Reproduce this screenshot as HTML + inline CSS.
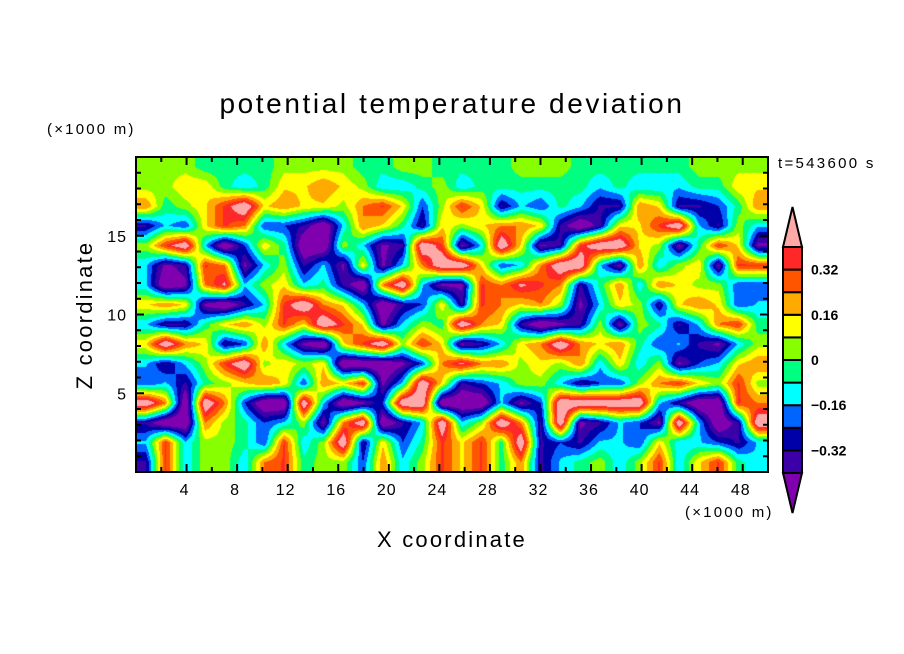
<!DOCTYPE html>
<html><head><meta charset="utf-8">
<style>
body{margin:0;background:#fff;}
#wrap{position:relative;width:904px;height:654px;overflow:hidden;background:#fff;font-family:"Liberation Sans",sans-serif;}
svg text{font-family:"Liberation Sans",sans-serif;}
canvas{position:absolute;left:136px;top:157px;}
</style></head>
<body>
<div id="wrap">
<canvas id="cv" width="632" height="315"></canvas>
<svg id="svg" width="904" height="654" style="position:absolute;left:0;top:0"></svg>
</div>
<script>
// field values: 16 rows (top -> bottom) x 32 columns (left -> right)
const row0=[.04,.04,.04,-.04,-.04,-.04,-.04,.04,.04,.04,.04,-.04,-.04,.04,.04,-.04,-.04,-.04,-.04,.04,.04,.04,-.04,-.04,-.04,-.04,-.04,-.04,.04,.04,.04,.04];
const row1=[.04,.04,.12,.12,-.04,-.12,-.04,.12,.12,.2,.12,.04,-.12,-.12,-.04,.04,-.12,-.04,-.04,-.04,-.04,-.04,-.04,-.12,-.04,-.12,-.12,-.12,-.04,-.04,.12,.12];
const row2=[.2,-.04,.04,.12,.28,.45,.12,.2,.12,.12,.04,.2,.28,.12,-.2,.04,.28,.12,-.28,-.12,-.2,-.04,-.12,-.28,-.28,.2,.12,-.28,-.28,-.2,-.04,.2];
const row3=[-.28,-.12,-.2,.12,.28,.2,-.2,-.2,-.28,-.45,-.12,.2,.12,-.04,-.28,.12,.04,.12,.2,.2,.12,-.28,-.45,-.28,.12,.12,.28,.45,-.12,-.28,.04,-.12];
const row4=[.04,.28,.45,-.12,-.45,-.2,.12,-.04,-.45,-.45,.04,-.12,-.36,-.28,.45,.28,-.36,-.12,.45,.12,-.36,-.28,.28,.45,.45,.12,.04,-.36,-.04,.28,.12,-.36];
const row5=[-.12,-.36,-.28,.28,.2,-.36,-.12,.04,-.28,-.12,-.36,.12,-.36,-.12,.2,.45,.45,.12,-.2,-.12,.2,.45,.45,-.12,-.36,.2,-.12,.04,.12,-.36,.28,.28];
const row6=[-.12,-.45,-.36,.2,.36,-.12,.04,.12,-.12,-.04,-.28,-.45,.2,.45,-.12,-.36,-.36,.28,.2,.36,.28,.2,-.28,-.04,.2,-.12,.2,.12,.04,.04,-.2,-.2];
const row7=[.12,.2,.12,-.36,-.45,-.28,-.12,.28,.45,.2,.12,-.12,-.45,-.28,-.2,.12,-.28,.28,.2,.12,.2,.04,-.36,-.12,.12,.04,-.28,.12,.2,.12,-.2,-.12];
const row8=[-.12,-.28,-.28,-.04,.12,.2,.04,.28,.12,.45,.28,.12,-.36,-.12,.04,-.04,.45,.2,.12,-.28,-.45,-.36,-.28,.04,-.36,.04,-.04,-.28,-.12,.2,.28,-.04];
const row9=[.12,.45,.2,.12,-.28,-.2,.2,-.12,-.36,-.45,.12,.28,.45,.04,.28,.12,-.36,-.28,-.12,.12,.2,.45,.2,.12,.2,-.04,-.2,-.12,-.28,-.36,-.12,.04];
const row10=[-.12,-.28,-.12,.04,.28,.45,.04,.12,.04,.12,-.45,-.45,-.45,-.36,-.2,.2,.36,.2,.2,.04,.12,.04,.2,-.12,.12,-.12,.04,-.36,-.2,-.12,.12,.2];
const row11=[-.2,-.12,-.28,-.04,.04,.12,.2,.12,-.2,.2,.12,.28,-.36,-.12,.45,.12,-.28,-.2,-.12,.04,.04,-.12,-.28,-.2,-.2,.04,.2,.28,.12,.04,.28,.04];
const row12=[.45,.2,-.45,.45,.2,-.2,-.45,-.45,.45,-.12,-.45,-.36,-.2,.45,.45,-.45,-.45,-.45,-.12,-.36,-.2,.45,.45,.45,.45,.45,-.12,-.28,-.45,-.45,.28,.2];
const row13=[-.28,-.45,-.45,.2,.04,-.04,-.2,-.12,.04,-.36,.2,.45,-.45,-.28,-.12,.45,-.12,.04,.45,.2,-.28,.45,-.36,-.28,-.12,-.2,-.36,.45,-.12,-.45,-.28,.45];
const row14=[-.12,.28,-.12,.04,.04,-.04,-.2,.28,-.12,.04,.45,-.28,.12,-.2,-.04,.28,.12,.28,-.04,.45,-.28,-.2,-.28,-.12,-.12,-.2,.12,-.12,-.12,-.2,-.28,-.12];
const row15=[-.28,.28,-.12,.04,.04,-.12,.2,.28,-.04,.04,.04,-.2,.2,-.12,.04,.28,.12,.28,-.04,.2,-.28,-.12,-.04,.04,-.12,.04,.28,-.12,.12,.28,-.04,-.12];
const levels=[-0.4,-0.32,-0.24,-0.16,-0.08,0,0.08,0.16,0.24,0.32,0.4];
const levelColors=["#8000b0","#3c00a8","#0000a8","#0064ff","#00ffff","#00ff80","#88ff00","#ffff00","#ffaa00","#ff5500","#ff2828","#ffa8a8"];
const xTicks=[4,8,12,16,20,24,28,32,36,40,44,48];
const yTicks=[5,10,15];
const cbLabels=["0.32","0.16","0","\u22120.16","\u22120.32"];
const cbLabelLevels=[0.32,0.16,0,-0.16,-0.32];

const field=[row0,row1,row2,row3,row4,row5,row6,row7,row8,row9,row10,row11,row12,row13,row14,row15];
const PX=136,PY=157,PW=632,PH=315,XMAX=50,ZMAX=20;
const CONTRAST=1.2;
const sx=v=>PX+v/XMAX*PW, sy=v=>PY+PH-v/ZMAX*PH;

function hexRGB(h){return [parseInt(h.substr(1,2),16),parseInt(h.substr(3,2),16),parseInt(h.substr(5,2),16)];}
const rgb=levelColors.map(hexRGB);
function bin(v){let i=0;while(i<levels.length&&v>=levels[i])i++;return i;}

(function(){
 const cv=document.getElementById('cv');const ctx=cv.getContext('2d');
 const img=ctx.createImageData(PW,PH);
 const nr=field.length,nc=field[0].length;
 for(let y=0;y<PH;y++){
  let fy=(y+0.5)/PH*nr-0.5; fy=Math.max(0,Math.min(nr-1,fy));
  const r0=Math.floor(fy),r1=Math.min(nr-1,r0+1),ty=fy-r0;
  for(let x=0;x<PW;x++){
   let fx=(x+0.5)/PW*nc-0.5; fx=Math.max(0,Math.min(nc-1,fx));
   const c0=Math.floor(fx),c1=Math.min(nc-1,c0+1),tx=fx-c0;
   const v=((field[r0][c0]*(1-tx)+field[r0][c1]*tx)*(1-ty)+(field[r1][c0]*(1-tx)+field[r1][c1]*tx)*ty)*CONTRAST;
   const c=rgb[bin(v)];const k=(y*PW+x)*4;
   img.data[k]=c[0];img.data[k+1]=c[1];img.data[k+2]=c[2];img.data[k+3]=255;
  }
 }
 ctx.putImageData(img,0,0);
})();

const NS='http://www.w3.org/2000/svg';
const svg=document.getElementById('svg');
function mk(tag,attrs,parent){const e=document.createElementNS(NS,tag);for(const k in attrs)e.setAttribute(k,attrs[k]);(parent||svg).appendChild(e);return e;}

const frame=mk('rect',{x:PX,y:PY,width:PW,height:PH,fill:'none',stroke:'#000','stroke-width':2});



for(let v=2;v<XMAX;v+=2){
 const major=v%4===0;const L=major?8:5;const x=sx(v);
 const t1=mk('line',{x1:x,y1:PY+PH,x2:x,y2:PY+PH-L,stroke:'#000','stroke-width':2});
 
 
 const t2=mk('line',{x1:x,y1:PY,x2:x,y2:PY+L,stroke:'#000','stroke-width':2});
 
 
}
xTicks.forEach(v=>{
 const t=mk('text',{x:sx(v)-2,y:PY+PH+23,'text-anchor':'middle','font-size':16,'letter-spacing':'1'});
 t.textContent=String(v);
 
 
});
for(let v=1;v<ZMAX;v++){
 const major=v%5===0;const L=major?8:5;const y=sy(v);
 const t1=mk('line',{x1:PX,y1:y,x2:PX+L,y2:y,stroke:'#000','stroke-width':2});
 
 
 const t2=mk('line',{x1:PX+PW,y1:y,x2:PX+PW-L,y2:y,stroke:'#000','stroke-width':2});
 
 
}
yTicks.forEach(v=>{
 const t=mk('text',{x:PX-9,y:sy(v)+6,'text-anchor':'end','font-size':16,'letter-spacing':'1'});
 t.textContent=String(v);
 
 
});

const CBX=783,CBW=19,CBY=247,CBH=226;
const nb=levels.length-1,bh=CBH/nb;
const cby=v=>CBY+CBH-(v-levels[0])/(levels[nb]-levels[0])*CBH;
for(let i=0;i<nb;i++){
 const r=mk('rect',{x:CBX,y:cby(levels[i+1]),width:CBW,height:bh,fill:levelColors[i+1],stroke:'#000','stroke-width':2});
 
 
}
const triT=mk('polygon',{points:`${CBX},${CBY} ${CBX+CBW/2},${CBY-40} ${CBX+CBW},${CBY}`,fill:levelColors[levelColors.length-1],stroke:'#000','stroke-width':2});


const triB=mk('polygon',{points:`${CBX},${CBY+CBH} ${CBX+CBW/2},${CBY+CBH+40} ${CBX+CBW},${CBY+CBH}`,fill:levelColors[0],stroke:'#000','stroke-width':2});


cbLabels.forEach((s,i)=>{
 const t=mk('text',{x:811,y:cby(cbLabelLevels[i])+5,'font-size':14,'font-weight':'bold'});
 t.textContent=s;
 
 
});

function txt(s,attrs,name){const t=mk('text',attrs);t.textContent=s;return t;}
txt('potential temperature deviation',{x:452,y:113,'text-anchor':'middle','font-size':28,'letter-spacing':'2.6'},'chart-title');
txt('(\u00d71000 m)',{x:47,y:134,'font-size':15,'letter-spacing':'2.2'},'y-unit-label');
txt('(\u00d71000 m)',{x:685,y:517,'font-size':15,'letter-spacing':'2.2'},'x-unit-label');
txt('t=543600 s',{x:778,y:168,'font-size':15,'letter-spacing':'2.3'},'time-label');
txt('X coordinate',{x:452,y:547,'text-anchor':'middle','font-size':22,'letter-spacing':'2.2'},'x-axis-title');
txt('Z coordinate',{x:92,y:315,'text-anchor':'middle','font-size':22,'letter-spacing':'2.2',transform:'rotate(-90 92 315)'},'y-axis-title');
</script>
</body></html>
